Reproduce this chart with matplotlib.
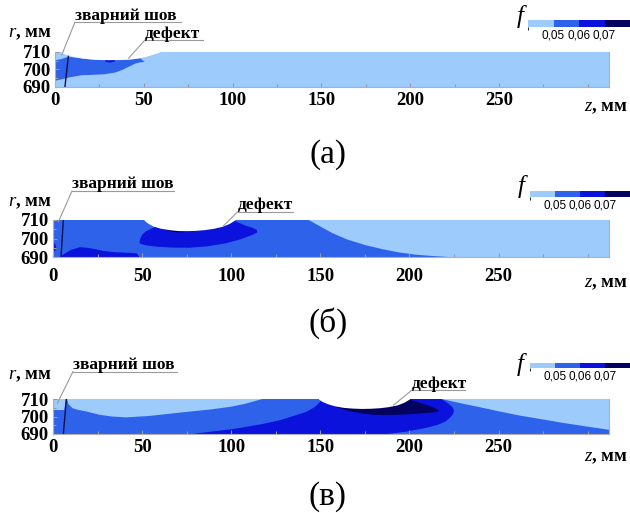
import matplotlib
matplotlib.use("Agg")
import matplotlib.pyplot as plt
from matplotlib.colors import ListedColormap, BoundaryNorm
from matplotlib.cm import ScalarMappable
from matplotlib.lines import Line2D

plt.rcParams['font.family'] = ['Liberation Serif', 'DejaVu Serif']
plt.rcParams['mathtext.fontset'] = 'custom'
plt.rcParams['mathtext.it'] = 'Liberation Serif:italic'
plt.rcParams['mathtext.rm'] = 'Liberation Serif'

# === levels of f and their colours ===
F_BOUNDS = [0.04, 0.05, 0.06, 0.07, 0.08]
F_TICKS = [0.05, 0.06, 0.07]
F_COLORS = ["#9dcbfb", "#2f62ea", "#0a12dc", "#03035f"]
LIGHT, MID, BLUE, NAVY = F_COLORS

Z_END = 312
Z_TICKS = [0, 50, 100, 150, 200, 250]
Z_MINOR = [25, 75, 125, 175, 225, 275, 300]
R_TICKS = [690, 700, 710]
R_MINOR = [695, 705]

# === panel (а) ===
Z_SURF_A = [3, 6, 10, 15, 20, 25, 30, 35, 40, 45, 50, 54, 57, 59]
R_SURF_A = [710, 708.6, 707.5, 706.6, 706.0, 705.7, 705.6, 705.7, 705.9, 706.3, 707.2, 708.4, 709.4, 710]
Z_MID_A = [0, 3, 6, 8, 12, 18, 25, 32, 38, 43, 46, 48, 50.5, 48, 45, 42, 38, 34, 28, 22, 15, 8, 4, 0]
R_MID_A = [705.3, 705.8, 706.8, 707.2, 706.7, 706.0, 705.5, 705.3, 705.4, 705.7, 706.3, 706.4, 704.3,
           704.1, 703.3, 701.8, 699.8, 698.3, 697.3, 697.0, 696.7, 695.5, 694.5, 693.5]
Z_BLUE_A = [28, 30, 32, 34, 33.5, 31, 28.5]
R_BLUE_A = [705.4, 705.6, 705.6, 705.4, 704.5, 703.9, 704.4]
SEAM_Z_A = [7.5, 5.6]
SEAM_R_A = [707.5, 690]

# === panel (б) ===
Z_SURF_B = [51, 53, 56, 60, 65, 70, 75, 80, 85, 90, 95, 99, 102]
R_SURF_B = [710, 708.4, 706.8, 705.6, 704.8, 704.3, 704.2, 704.4, 704.8, 705.5, 706.6, 708.2, 710]
Z_LIGHT_B = [143.5, 150, 157, 165, 175, 185, 194, 203, 212, 222, Z_END, Z_END]
R_LIGHT_B = [710, 706.5, 702.8, 699.5, 696.5, 694.2, 692.5, 691.3, 690.6, 690, 690, 710]
Z_BLUE_B = [48.5, 49, 50, 52, 55, 58, 60, 101, 104, 108, 112, 114.5, 114.5, 112, 105, 97, 87,
            76.5, 66, 58, 52, 49.5]
R_BLUE_B = [697.5, 700, 702, 703.8, 705.2, 706.5, 710, 710, 708.6, 707, 705.8, 704.6, 703.2, 702,
            699.5, 697.4, 695.8, 695, 695.1, 695.6, 696.3, 697]
Z_NAVY_B = [60, 63, 67, 72, 77, 82, 82, 60]
R_NAVY_B = [706.5, 704.6, 703.6, 703.3, 703.7, 704.4, 707, 707]
Z_BLUE_B2 = [4, 6, 10, 15, 19, 23, 28, 35, 42, 47, 48.5]
R_BLUE_B2 = [690, 691.5, 693.8, 695.3, 695.0, 694.4, 693.3, 692.6, 692.3, 692, 690]
Z_BLUE_B3 = [0, 1.2, 1.8, 1.2, 0]
R_BLUE_B3 = [697.8, 697.2, 695.2, 693.2, 692.6]
SEAM_Z_B = [5.8, 4.5]
SEAM_R_B = [710, 690]

# === panel (в) ===
Z_SURF_C = [149, 151, 154, 158, 163, 168, 173, 178, 183, 188, 193, 197, 200]
R_SURF_C = [710, 708.6, 707.3, 706.1, 705.2, 704.8, 704.6, 704.7, 705.0, 705.6, 706.6, 708.2, 710]
Z_LIGHT_C1 = [0, 0, 6.3, 7.2]
R_LIGHT_C1 = [710, 703.7, 703.7, 710]
Z_LIGHT_C2 = [7.9, 8.7, 11, 14, 19, 26, 33, 41, 54, 71, 89, 100, 108, 117.5]
R_LIGHT_C2 = [710, 707, 704.7, 703.8, 702.8, 701, 700, 699.5, 700.3, 702.2, 704.1, 705.6, 707.3, 710]
Z_LIGHT_C3 = [218, 230, 240, 250, 262, 275, 287, 300, Z_END, Z_END]
R_LIGHT_C3 = [710, 707.3, 705.2, 703, 700.5, 698.3, 696.2, 694.2, 692.4, 710]
Z_BLUE_C = [78, 90, 100, 108, 118, 127, 135, 142, 147, 149.5, 151, 218, 221, 224, 225, 224.6,
            222.5, 220, 216, 212, 207, 203, 198, 194, 188]
R_BLUE_C = [690, 691.5, 692.7, 694, 695.8, 697.8, 700.3, 702.6, 705.5, 708, 710, 710, 708, 705.6,
            703.5, 701.5, 699, 697, 695.3, 694.2, 693, 692.3, 691.3, 690.8, 690]
Z_NAVY_C = [150, 154, 157, 162, 167.6, 175, 181, 188, 194, 200, 207, 213, 216.5, 216, 212.5, 207, 201, 199]
R_NAVY_C = [710, 708.5, 706.4, 704.2, 702.8, 701.5, 700.9, 700.8, 701, 701.3, 701.8, 702.3, 702.9,
            704, 705.6, 707.5, 709.4, 710]
SEAM_Z_C = [7.5, 5.8]
SEAM_R_C = [710, 690]

W, H = 630, 513
fig = plt.figure(figsize=(W / 100, H / 100), dpi=100)


def fx(x):
    return x / W


def fy(y):
    return 1 - y / H


GRAY = "#9a9a9a"


def make_strip(left, right, top, bottom, base, regions, surf, seam, xpad):
    ax = fig.add_axes([fx(left), fy(bottom), fx(right) - fx(left), (bottom - top) / H])
    ax.set_xlim(0, Z_END)
    ax.set_ylim(690, 710)
    ax.set_facecolor(base)
    for z, r, c in regions:
        ax.fill(z, r, color=c, lw=0, zorder=1)
    ax.fill_between(surf[0], surf[1], 712, color="white", lw=0, zorder=3)
    ax.plot(seam[0], seam[1], color="#10104a", lw=1.0, zorder=4)
    ax.set_xticks(Z_TICKS)
    ax.set_xticks(Z_MINOR, minor=True)
    ax.set_yticks(R_TICKS)
    ax.set_yticks(R_MINOR, minor=True)
    ax.tick_params(which="both", direction="in", color=GRAY, width=0.8)
    ax.tick_params(which="major", length=3, labelsize=13.5)
    ax.tick_params(which="minor", length=2)
    ax.tick_params(axis="x", pad=xpad)
    ax.tick_params(axis="y", pad=3)
    for lbl in ax.get_xticklabels() + ax.get_yticklabels():
        lbl.set_fontweight("bold")
    ax.spines["top"].set_visible(False)
    for s in ("left", "bottom", "right"):
        ax.spines[s].set_color("#b0b0b0")
        ax.spines[s].set_linewidth(0.8)
        ax.spines[s].set_zorder(5)
    return ax


def add_cbar(x0, x1, y0, y1, fpos):
    cax = fig.add_axes([fx(x0), fy(y1), fx(x1) - fx(x0), (y1 - y0) / H])
    cmap = ListedColormap(F_COLORS)
    norm = BoundaryNorm(F_BOUNDS, cmap.N)
    cb = fig.colorbar(ScalarMappable(norm=norm, cmap=cmap), cax=cax,
                      orientation="horizontal", ticks=F_TICKS)
    cb.outline.set_visible(False)
    cb.ax.set_xticklabels([f"{t:.2f}".replace(".", ",") for t in F_TICKS],
                          fontsize=8.5, family="Liberation Sans")
    cb.ax.tick_params(length=0, pad=1.5)
    fig.text(fx(fpos[0]), fy(fpos[1]), "f", fontsize=18, style="italic",
             ha="center", va="center")


def leader(ax, text, x0, x1, yline, z, r):
    fig.text(fx(x0), fy(yline - 2.5), text, fontsize=12.5, fontweight="bold",
             ha="left", va="baseline")
    fig.add_artist(Line2D([fx(x0), fx(x1)], [fy(yline), fy(yline)], color=GRAY, lw=0.8))
    ax.annotate("", xy=(z, r), xycoords="data", xytext=(fx(x0), fy(yline)),
                textcoords="figure fraction",
                arrowprops=dict(arrowstyle="-", color=GRAY, lw=0.8, shrinkA=0, shrinkB=0))


def axis_texts(ry, zy, letter, ly):
    fig.text(fx(8), fy(ry), r"$r$, мм", fontsize=13.5, fontweight="bold", ha="left", va="center")
    fig.text(fx(628), fy(zy), r"$z$, мм", fontsize=13.5, fontweight="bold", ha="right", va="center")
    fig.text(fx(328), fy(ly), letter, fontsize=24, ha="center", va="center")


# (а)
ax_a = make_strip(55, 609, 52, 87, LIGHT,
                  [(Z_MID_A, R_MID_A, MID), (Z_BLUE_A, R_BLUE_A, BLUE)],
                  (Z_SURF_A, R_SURF_A), (SEAM_Z_A, SEAM_R_A), 3.5)
leader(ax_a, "зварний шов", 75, 181, 22, 3.8, 708.3)
leader(ax_a, "дефект", 145, 203, 40, 41.4, 706.4)
add_cbar(528, 630, 20, 27, (520, 16))
axis_texts(33, 108, "(а)", 155)

# (б)
ax_b = make_strip(53, 609, 220, 257, MID,
                  [(Z_LIGHT_B, R_LIGHT_B, LIGHT), (Z_BLUE_B, R_BLUE_B, BLUE),
                   (Z_NAVY_B, R_NAVY_B, NAVY), (Z_BLUE_B2, R_BLUE_B2, BLUE),
                   (Z_BLUE_B3, R_BLUE_B3, BLUE)],
                  (Z_SURF_B, R_SURF_B), (SEAM_Z_B, SEAM_R_B), 8)
leader(ax_b, "зварний шов", 72, 174, 191, 3, 709)
leader(ax_b, "дефект", 238, 293, 211.5, 95.5, 706.7)
add_cbar(530, 630, 191, 197, (521, 186))
axis_texts(203, 284, "(б)", 323)

# (в)
ax_c = make_strip(53, 609, 399, 434, MID,
                  [(Z_LIGHT_C1, R_LIGHT_C1, LIGHT), (Z_LIGHT_C2, R_LIGHT_C2, LIGHT),
                   (Z_LIGHT_C3, R_LIGHT_C3, LIGHT), (Z_BLUE_C, R_BLUE_C, BLUE),
                   (Z_NAVY_C, R_NAVY_C, NAVY)],
                  (Z_SURF_C, R_SURF_C), (SEAM_Z_C, SEAM_R_C), 3.5)
leader(ax_c, "зварний шов", 73, 177, 371.5, 2.4, 707.5)
leader(ax_c, "дефект", 412, 465, 390, 191, 706.4)
add_cbar(530, 630, 363, 368, (520, 364))
axis_texts(375, 458, "(в)", 497)

fig.savefig("out.png", dpi=100)
